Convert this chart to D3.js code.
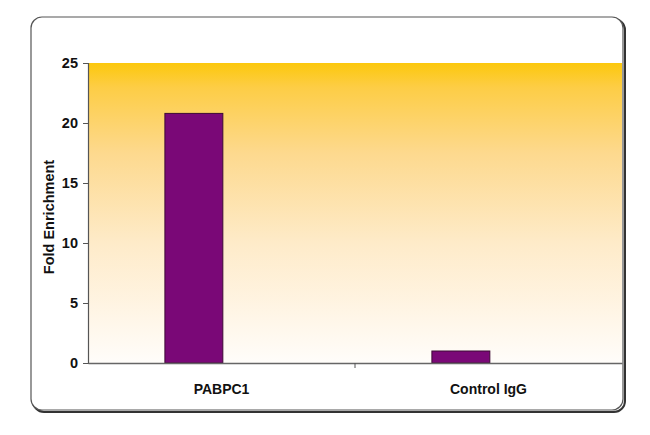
<!DOCTYPE html>
<html>
<head>
<meta charset="utf-8">
<script src="https://cdn.jsdelivr.net/npm/d3@7"></script>
<style>
html,body{margin:0;padding:0;background:#fff;}
svg text{font-family:"Liberation Sans Narrow","Arial Narrow","Liberation Sans",Arial,sans-serif;font-weight:bold;fill:#111;}
</style>
</head>
<body>
<svg id="chart" width="650" height="435"></svg>
<script>
const categories = ["PABPC1", "Control IgG"];
const values = [20.8, 1.0];
const yTicks = [0, 5, 10, 15, 20, 25];
const yLabel = "Fold Enrichment";

const svg = d3.select("#chart");
const plot = {left: 88, right: 622, top: 63, bottom: 363};

// outer frame with shadow-like thicker right/bottom
svg.append("rect").attr("x", 33).attr("y", 19).attr("width", 592).attr("height", 393)
  .attr("rx", 11).attr("fill", "none").attr("stroke", "#333").attr("stroke-width", 2);
svg.append("rect").attr("x", 31).attr("y", 17).attr("width", 592).attr("height", 393)
  .attr("rx", 11).attr("fill", "#fff").attr("stroke", "#555").attr("stroke-width", 1.2);

const defs = svg.append("defs");
const grad = defs.append("linearGradient").attr("id", "bg").attr("x1", 0).attr("y1", 0).attr("x2", 0).attr("y2", 1);
[[0, "#fcc80c"], [0.08, "#fdcd45"], [0.3, "#fdd98e"], [0.6, "#feebc9"], [0.85, "#fff6e8"], [1, "#fffdfa"]]
  .forEach(([o, c]) => grad.append("stop").attr("offset", o).attr("stop-color", c));

const x = d3.scaleBand().domain(categories).range([plot.left, plot.right]).padding(0);
const y = d3.scaleLinear().domain([0, 25]).range([plot.bottom, plot.top]);

svg.append("rect").attr("x", plot.left).attr("y", plot.top)
  .attr("width", plot.right - plot.left).attr("height", plot.bottom - plot.top)
  .attr("fill", "url(#bg)");

// bars (offset within the band as in the original two-series layout)
const barOffset = x.bandwidth() * 0.288;
const barW = x.bandwidth() * 0.217;
svg.append("g").selectAll("rect").data(categories).join("rect")
  .attr("x", (d) => x(d) + barOffset)
  .attr("y", (d, i) => y(values[i]))
  .attr("width", barW)
  .attr("height", (d, i) => y(0) - y(values[i]))
  .attr("fill", "#7a0877")
  .attr("stroke", "#3d0a35").attr("stroke-width", 1);

// y axis
const yAxis = svg.append("g").attr("transform", `translate(${plot.left},0)`)
  .call(d3.axisLeft(y).tickValues(yTicks).tickSize(5).tickPadding(5));
yAxis.select(".domain").attr("stroke", "#555").attr("stroke-width", 1.2);
yAxis.selectAll(".tick line").attr("stroke", "#555");
yAxis.selectAll(".tick text").style("font-size", "14.5px").attr("fill", "#111");

// x axis
const xAxis = svg.append("g").attr("transform", `translate(0,${plot.bottom})`)
  .call(d3.axisBottom(x).tickSize(0).tickPadding(21));
xAxis.select(".domain").attr("stroke", "#666").attr("stroke-width", 1.5);
xAxis.selectAll(".tick text").style("font-size", "14px").attr("fill", "#111");
svg.append("g").selectAll("line").data(categories.slice(1)).join("line")
  .attr("x1", (d) => x(d)).attr("x2", (d) => x(d))
  .attr("y1", plot.bottom).attr("y2", plot.bottom + 5)
  .attr("stroke", "#555");

// y label
svg.append("text")
  .attr("transform", `translate(54,${(plot.top + plot.bottom) / 2 + 4}) rotate(-90)`)
  .attr("text-anchor", "middle").style("font-size", "14.5px")
  .text(yLabel);
</script>
</body>
</html>
